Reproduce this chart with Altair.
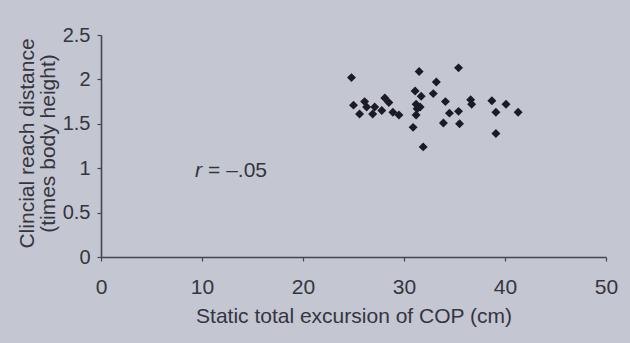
import altair as alt
import pandas as pd

# Static total excursion of COP (cm)
cop = [24.8, 31.5, 35.4, 33.2, 31.1, 31.7, 32.9, 28.1, 28.5, 25.0,
       26.1, 26.3, 27.1, 25.6, 26.9, 27.8, 28.9, 29.5, 31.2, 31.3,
       31.2, 30.9, 31.9, 34.1, 34.5, 35.4, 33.9, 35.5, 36.6, 36.7,
       38.7, 40.1, 39.1, 41.3, 39.1, 31.6]
# Clinical reach distance (times body height)
reach = [2.02, 2.09, 2.13, 1.97, 1.87, 1.81, 1.84, 1.79, 1.74, 1.71,
         1.75, 1.69, 1.69, 1.61, 1.61, 1.65, 1.63, 1.60, 1.72, 1.67,
         1.60, 1.46, 1.24, 1.75, 1.62, 1.64, 1.51, 1.50, 1.77, 1.72,
         1.76, 1.72, 1.63, 1.63, 1.39, 1.69]

x_ticks = [0, 10, 20, 30, 40, 50]
y_ticks = [0, 0.5, 1, 1.5, 2, 2.5]

ann_r = pd.DataFrame({"x": [9.3], "y": [0.97], "t": ["r"]})
ann_v = pd.DataFrame({"x": [10.6], "y": [0.97], "t": ["= \u2013.05"]})

df = pd.DataFrame({"cop": cop, "reach": reach})

FONT = "Liberation Sans"
TXT = "#34353f"
AX = "#45464f"

xs = alt.Scale(domain=[0, 50], nice=False, zero=True)
ys = alt.Scale(domain=[0, 2.5], nice=False, zero=True)

points = alt.Chart(df).mark_point(
    shape="diamond", filled=True, size=80, color="#1b1b25", opacity=1
).encode(
    x=alt.X("cop:Q", scale=xs, axis=alt.Axis(
        values=x_ticks, title="Static total excursion of COP (cm)",
        grid=False, labelFlush=False, domainColor=AX, domainWidth=1.6,
        tickColor=AX, tickSize=4, tickWidth=1.2, labelFont=FONT,
        labelFontSize=21, labelColor=TXT, labelPadding=15, titleFont=FONT,
        titleFontSize=21, titleFontWeight="normal", titleColor=TXT,
        titleY=48, titleBaseline="top")),
    y=alt.Y("reach:Q", scale=ys, axis=alt.Axis(
        values=y_ticks, title=["Clincial reach distance", "(times body height)"],
        labelExpr="'' + datum.value",
        grid=False, labelFlush=False, domainColor=AX, domainWidth=1.6,
        tickColor=AX, tickSize=4, tickWidth=1.2, labelFont=FONT,
        labelFontSize=20, labelColor=TXT, labelPadding=7, titleFont=FONT,
        titleFontSize=21, titleFontWeight="normal", titleColor=TXT,
        titleAngle=270, titleX=-74, titleY=108, titleAlign="center",
        titleBaseline="middle", titleLineHeight=21)),
)

r_text = alt.Chart(ann_r).mark_text(
    font=FONT, fontSize=21, fontStyle="italic", color=TXT,
    align="left", baseline="middle"
).encode(x=alt.X("x:Q", scale=xs), y=alt.Y("y:Q", scale=ys), text="t:N")

v_text = alt.Chart(ann_v).mark_text(
    font=FONT, fontSize=21, color=TXT, align="left", baseline="middle"
).encode(x=alt.X("x:Q", scale=xs), y=alt.Y("y:Q", scale=ys), text="t:N")

chart = alt.layer(points, r_text, v_text).properties(
    width=505, height=222,
    autosize=alt.AutoSizeParams(type="none"),
    padding={"left": 101, "top": 35, "right": 24, "bottom": 86},
    background="#c4c6d1",
).configure_view(stroke=None)

chart.save("out.html", embed_options={"renderer": "svg", "actions": False})
